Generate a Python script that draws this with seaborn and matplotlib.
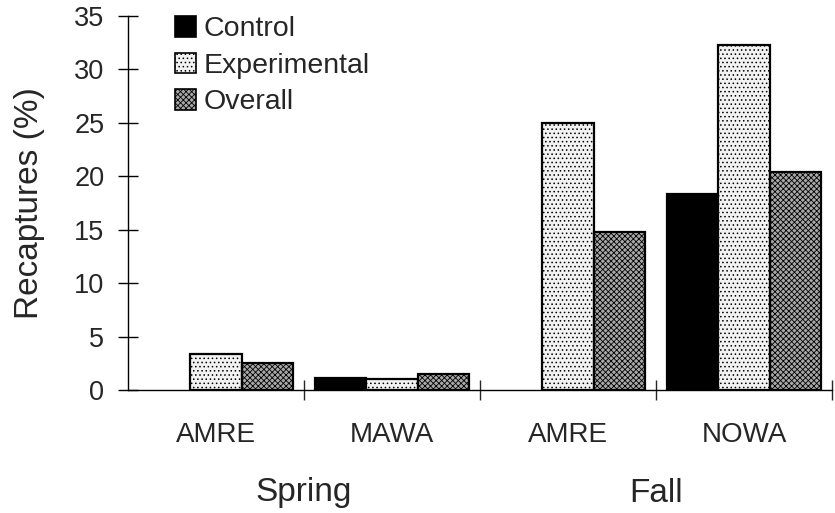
import matplotlib
matplotlib.use("Agg")
import matplotlib.pyplot as plt
import matplotlib.transforms as mtransforms
from matplotlib.patches import Patch
import seaborn as sns
import pandas as pd

# ---- data ----
seasons = ["Spring", "Spring", "Fall", "Fall"]
species = ["AMRE", "MAWA", "AMRE", "NOWA"]
series_names = ["Control", "Experimental", "Overall"]
control = [0.0, 1.1, 0.0, 18.3]
experimental = [3.4, 1.0, 25.0, 32.3]
overall = [2.5, 1.5, 14.8, 20.4]
y_ticks = [0, 5, 10, 15, 20, 25, 30, 35]

groups = [f"{s} {sp}" for s, sp in zip(seasons, species)]
rows = []
for name, vals in zip(series_names, [control, experimental, overall]):
    for g, v in zip(groups, vals):
        rows.append({"group": g, "series": name, "value": v})
df = pd.DataFrame(rows)

# ---- style ----
sns.set_style("ticks")
plt.rcParams["font.family"] = ["Liberation Sans", "DejaVu Sans"]
plt.rcParams["hatch.linewidth"] = 0.6

styles = {
    "Control": dict(facecolor="black", hatch=None),
    "Experimental": dict(facecolor="#f2f2f2", hatch="...."),
    "Overall": dict(facecolor="#a8a8a8", hatch="xxxxxx"),
}

fig = plt.figure(figsize=(8.35, 5.13), dpi=100)
ax = fig.add_axes([128 / 835, 1 - 390 / 513, (832 - 128) / 835, (390 - 16) / 513])

sns.barplot(data=df, x="group", y="value", hue="series", order=groups,
            hue_order=series_names, width=0.87, gap=0, dodge=True,
            palette={k: v["facecolor"] for k, v in styles.items()},
            edgecolor="black", linewidth=1.6, saturation=1, legend=False, ax=ax)

for cont, name in zip(ax.containers, series_names):
    for bar in cont:
        bar.set_facecolor(styles[name]["facecolor"])
        bar.set_edgecolor("black")
        if styles[name]["hatch"]:
            bar.set_hatch(styles[name]["hatch"])
        if bar.get_height() == 0:
            bar.set_linewidth(0)

ax.set_xlim(-0.5, 3.5)
ax.set_ylim(0, 35)
ax.set_yticks(y_ticks)
ax.tick_params(axis="y", direction="inout", length=14, width=1, pad=10,
               labelsize=19.5, color="black")
ax.set_xticks(range(len(groups)))
ax.set_xticklabels(species)
ax.tick_params(axis="x", which="major", length=0, pad=23, labelsize=20)
ax.set_xticks([0.5, 1.5, 2.5, 3.5], minor=True)
ax.tick_params(axis="x", which="minor", direction="inout", length=14, width=1)
ax.set_xlabel("")
ax.set_ylabel("Recaptures (%)", fontsize=24)
ax.yaxis.set_label_coords(-0.118, 0.5)

sns.despine(ax=ax)
for sp in ["left", "bottom"]:
    ax.spines[sp].set_linewidth(1)
    ax.spines[sp].set_color("black")

# season labels
trans = mtransforms.blended_transform_factory(ax.transData, fig.transFigure)
for pos, label in [(0.5, "Spring"), (2.5, "Fall")]:
    ax.text(pos, 1 - 493 / 513, label, transform=trans, ha="center",
            va="center", fontsize=24)

handles = [Patch(facecolor=styles[n]["facecolor"], edgecolor="black",
                 hatch=styles[n]["hatch"], linewidth=1.2) for n in series_names]
ax.legend(handles, series_names, loc="upper left",
          bbox_to_anchor=(175 / 835, 1 - 16 / 513), bbox_transform=fig.transFigure,
          frameon=False, fontsize=20.5, handlelength=0.74, handleheight=0.74,
          handletextpad=0.25, labelspacing=0.36, borderpad=0, borderaxespad=0)

fig.savefig("out.png", dpi=100)
